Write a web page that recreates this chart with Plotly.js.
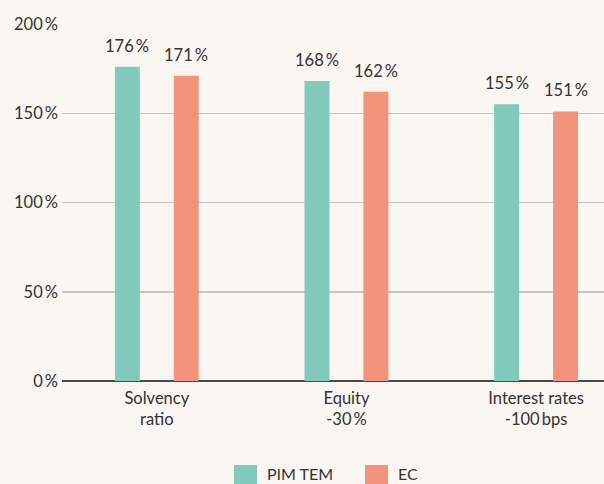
<!DOCTYPE html>
<html>
<head>
<meta charset="utf-8">
<script src="https://cdn.plot.ly/plotly-3.0.1.min.js"></script>
<style>
html,body{margin:0;padding:0;background:#faf6f2;}
#chart{width:604px;height:484px;}
</style>
</head>
<body>
<div id="chart"></div>
<script>
var categories = ["Solvency<br>ratio", "Equity<br>-30\u2009%", "Interest rates<br>-100\u2009bps"];
var seriesNames = ["PIM TEM", "EC"];
var pimTem = [176, 168, 155];
var ec = [171, 162, 151];
var yTickVals = [0, 50, 100, 150, 200];
var yTickText = ["0\u2009%", "50\u2009%", "100\u2009%", "150\u2009%", "200\u2009%"];

var colors = ["#80c9bb", "#f4937c"];
var fontFamily = "Lato, 'Open Sans', sans-serif";
var textColor = "#333333";
var fs = 16.5;

var catPx = 190;           // pixel width of one category
var barW = 25 / catPx;
var offsets = [-42 / catPx, 17 / catPx];

var allSeries = [pimTem, ec];
var traces = allSeries.map(function(vals, i){
  return {
    type: "bar",
    name: seriesNames[i],
    x: categories,
    y: vals,
    width: barW,
    offset: offsets[i],
    marker: {color: colors[i]},
    hoverinfo: "skip",
    showlegend: false
  };
});

var annotations = [];
var shifts = [-29.5, 29.5];
allSeries.forEach(function(vals, i){
  vals.forEach(function(v, j){
    annotations.push({
      x: categories[j], y: v, xref: "x", yref: "y",
      text: v + "\u2009%", showarrow: false,
      xanchor: "center", yanchor: "bottom",
      xshift: shifts[i], yshift: 9,
      font: {family: fontFamily, size: fs, color: textColor}
    });
  });
});

// custom legend
var shapes = [];
var legendX = [234, 365];
var legendTextX = [265, 396];
seriesNames.forEach(function(n, i){
  shapes.push({
    type: "rect", xref: "paper", yref: "paper",
    x0: (legendX[i] - 62) / 542, x1: (legendX[i] + 23 - 62) / 542,
    y0: (381 - 465) / 357, y1: (381 - 490) / 357,
    fillcolor: colors[i], line: {width: 0}, layer: "above"
  });
  annotations.push({
    xref: "paper", yref: "paper",
    x: (legendTextX[i] - 62) / 542, y: (381 - 473) / 357,
    xanchor: "left", yanchor: "middle", showarrow: false,
    text: n, font: {family: fontFamily, size: 16, color: textColor}
  });
});

var layout = {
  width: 604, height: 484,
  margin: {l: 62, r: 0, t: 24, b: 103, pad: 0},
  paper_bgcolor: "#faf6f2",
  plot_bgcolor: "#faf6f2",
  barmode: "overlay",
  font: {family: fontFamily, size: fs, color: textColor},
  xaxis: {
    type: "category",
    range: [-0.5, 2.358],
    showgrid: false,
    showline: false,
    zeroline: false,
    ticks: "",
    ticklabelstandoff: 5,
    tickfont: {family: fontFamily, size: fs, color: textColor},
    fixedrange: true
  },
  yaxis: {
    range: [0, 200],
    tickvals: yTickVals,
    ticktext: yTickText,
    showgrid: true,
    gridcolor: "#c9c5c1",
    gridwidth: 1.5,
    zeroline: true,
    zerolinecolor: "#4a4a4a",
    zerolinewidth: 2,
    showline: false,
    ticks: "",
    ticklabelstandoff: 3,
    tickfont: {family: fontFamily, size: fs, color: textColor},
    fixedrange: true
  },
  annotations: annotations,
  shapes: shapes,
  showlegend: false
};

Plotly.newPlot("chart", traces, layout, {displayModeBar: false, staticPlot: true});
</script>
</body>
</html>
